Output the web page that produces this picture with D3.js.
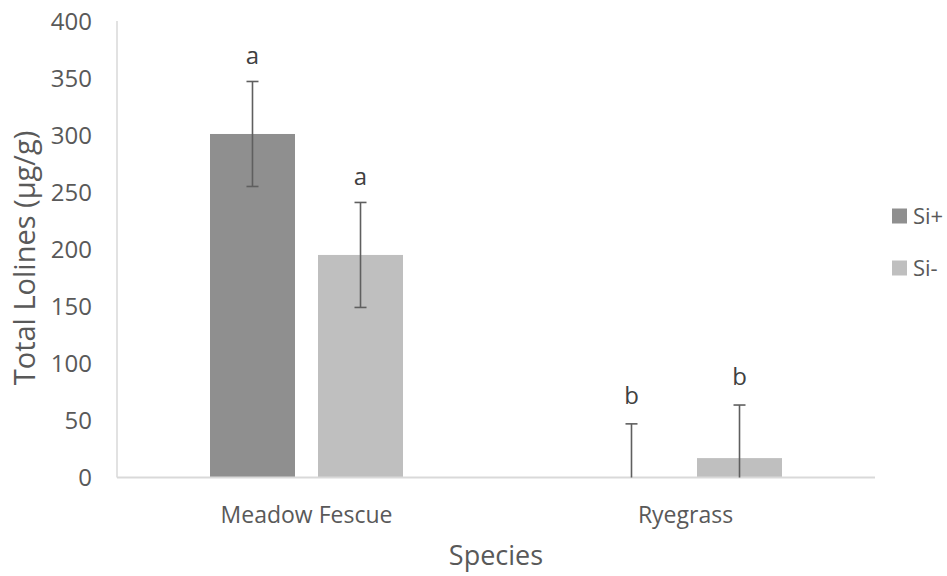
<!DOCTYPE html>
<html>
<head>
<meta charset="utf-8">
<script src="https://cdn.jsdelivr.net/npm/d3@7"></script>
<style>
  body { margin: 0; background: #fff; }
  text { font-family: "Open Sans", sans-serif; fill: #595959; }
</style>
</head>
<body>
<div id="chart"></div>
<script>
// data
var categories = ["Meadow Fescue", "Ryegrass"];
var series = ["Si+", "Si-"];
var siPlus = [301, 0];
var siMinus = [195, 17];
var siPlusErr = [46, 47];
var siMinusErr = [46, 46.5];
var letters = [["a", "a"], ["b", "b"]];   // [category][series]
var yTicks = [0, 50, 100, 150, 200, 250, 300, 350, 400];

var W = 947, H = 576;
var plot = {left: 117, right: 875, top: 21, bottom: 477.5};

var svg = d3.select("#chart").append("svg")
  .attr("width", W).attr("height", H);

var x = d3.scaleBand().domain(categories).range([plot.left, plot.right]);
var xs = d3.scaleBand().domain(series).range([0, x.bandwidth()])
  .paddingInner(0.213).paddingOuter(0.861);
var y = d3.scaleLinear().domain([0, 400]).range([plot.bottom, plot.top]);
var color = d3.scaleOrdinal().domain(series).range(["#8f8f8f", "#bfbfbf"]);

// build rows
var rows = [];
categories.forEach(function(c, i) {
  rows.push({cat: c, s: "Si+", v: siPlus[i], e: siPlusErr[i], l: letters[i][0]});
  rows.push({cat: c, s: "Si-", v: siMinus[i], e: siMinusErr[i], l: letters[i][1]});
});

// y axis ticks (labels only)
var yAxis = svg.append("g")
  .attr("transform", "translate(" + (plot.left - 25) + ",0)")
  .call(d3.axisLeft(y).tickValues(yTicks).tickSize(0).tickPadding(0));
yAxis.select(".domain").remove();
yAxis.selectAll("text")
  .attr("fill", "#595959")
  .style("font-family", "'Open Sans', sans-serif")
  .style("font-size", "24px")
  .attr("dy", "0.35em");

// axis lines
svg.append("line")
  .attr("x1", plot.left).attr("x2", plot.left)
  .attr("y1", y(400)).attr("y2", y(0))
  .attr("stroke", "#d9d9d9").attr("stroke-width", 1.5);

// bars
svg.append("g").selectAll("rect")
  .data(rows).enter().append("rect")
  .attr("x", function(d) { return x(d.cat) + xs(d.s); })
  .attr("y", function(d) { return y(d.v); })
  .attr("width", xs.bandwidth())
  .attr("height", function(d) { return y(0) - y(d.v); })
  .attr("fill", function(d) { return color(d.s); });

svg.append("line")
  .attr("x1", plot.left).attr("x2", plot.right)
  .attr("y1", y(0)).attr("y2", y(0))
  .attr("stroke", "#d9d9d9").attr("stroke-width", 2);

// error bars
var eb = svg.append("g").attr("stroke", "#5f5f5f").attr("stroke-width", 1.6);
rows.forEach(function(d) {
  var cx = x(d.cat) + xs(d.s) + xs.bandwidth() / 2;
  var lo = Math.max(0, d.v - d.e), hi = d.v + d.e;
  eb.append("line").attr("x1", cx).attr("x2", cx)
    .attr("y1", y(lo)).attr("y2", y(hi));
  eb.append("line").attr("x1", cx - 6).attr("x2", cx + 6)
    .attr("y1", y(hi)).attr("y2", y(hi));
  if (d.v - d.e >= 0) {
    eb.append("line").attr("x1", cx - 6).attr("x2", cx + 6)
      .attr("y1", y(lo)).attr("y2", y(lo));
  }
});

// significance letters
svg.append("g").selectAll("text")
  .data(rows).enter().append("text")
  .attr("x", function(d) { return x(d.cat) + xs(d.s) + xs.bandwidth() / 2; })
  .attr("y", function(d) { return y(d.v + d.e) - (d.l == "a" ? 17 : 20); })
  .attr("text-anchor", "middle")
  .style("font-size", "24px")
  .style("fill", "#404040")
  .text(function(d) { return d.l; });

// category labels
svg.append("g").selectAll("text")
  .data(categories).enter().append("text")
  .attr("x", function(d) { return x(d) + x.bandwidth() / 2; })
  .attr("y", 523)
  .attr("text-anchor", "middle")
  .style("font-size", "23px")
  .text(function(d) { return d; });

// axis titles
svg.append("text")
  .attr("x", 496).attr("y", 565)
  .attr("text-anchor", "middle")
  .style("font-size", "27px")
  .text("Species");

svg.append("text")
  .attr("transform", "translate(35,258) rotate(-90)")
  .attr("text-anchor", "middle")
  .style("font-size", "29px")
  .text("Total Lolines (µg/g)");

// legend
var leg = svg.append("g").selectAll("g")
  .data(series).enter().append("g")
  .attr("transform", function(d, i) { return "translate(892," + (216 + i * 52) + ")"; });
leg.append("rect")
  .attr("x", 0).attr("y", -7.5).attr("width", 15).attr("height", 15)
  .attr("fill", function(d) { return color(d); });
leg.append("text")
  .attr("x", 21).attr("dy", "0.35em")
  .style("font-size", "22px")
  .text(function(d) { return d; });
</script>
</body>
</html>
